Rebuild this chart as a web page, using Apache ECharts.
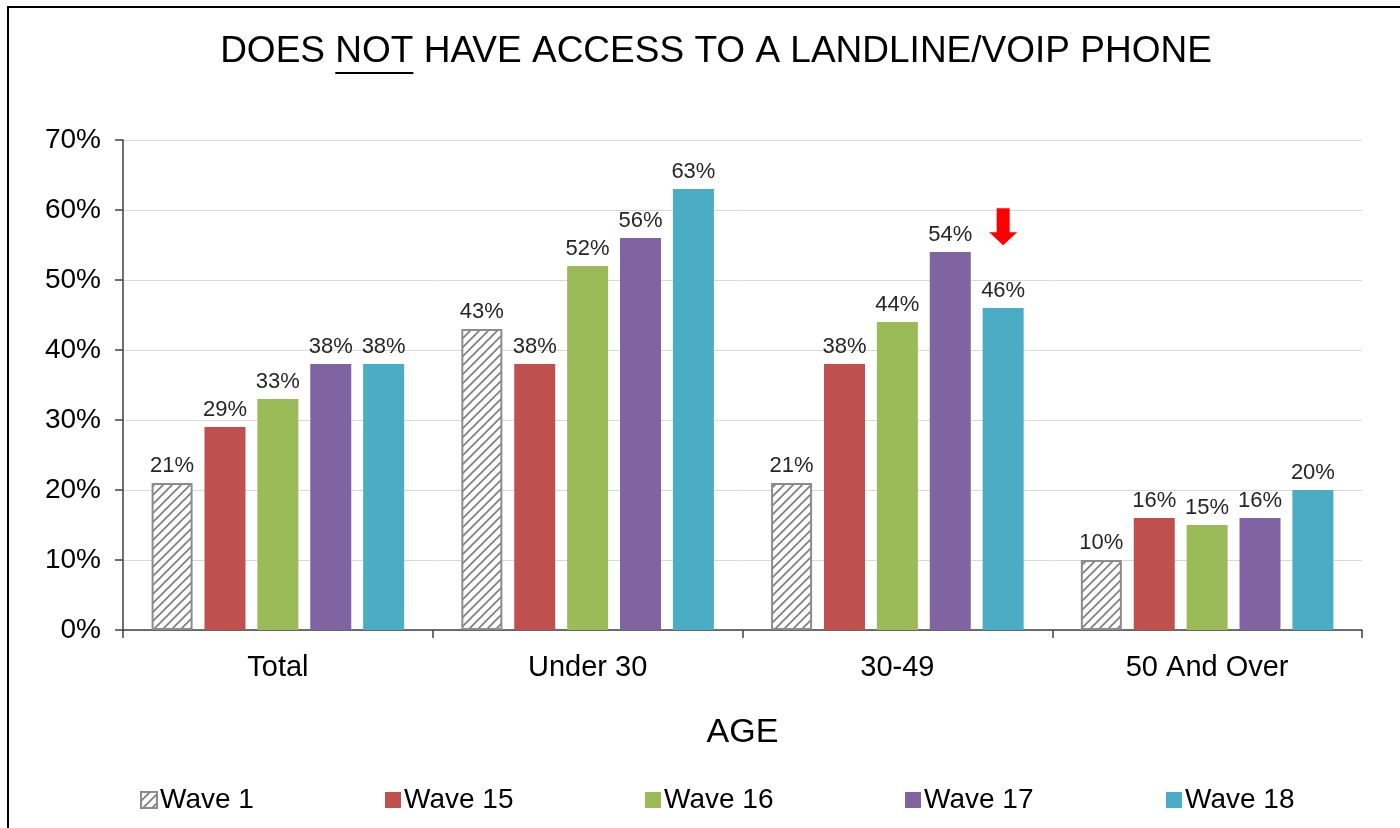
<!DOCTYPE html>
<html>
<head>
<meta charset="utf-8">
<script src="https://cdn.jsdelivr.net/npm/echarts@6/dist/echarts.min.js"></script>
<style>
  html, body { margin: 0; padding: 0; background: #fff; }
  #chart { width: 1400px; height: 828px; }
</style>
</head>
<body>
<div id="chart"></div>
<script>
// 数据
const categories = ["Total", "Under 30", "30-49", "50 And Over"];
const waveNames = ["Wave 1", "Wave 15", "Wave 16", "Wave 17", "Wave 18"];
const wave1 = [21, 43, 21, 10];
const wave15 = [29, 38, 38, 16];
const wave16 = [33, 52, 44, 15];
const wave17 = [38, 56, 54, 16];
const wave18 = [38, 63, 46, 20];
const yTicks = [0, 10, 20, 30, 40, 50, 60, 70];

const colors = ["#ffffff", "#c0504d", "#9bbb59", "#8064a2", "#4bacc6"];
const FONT = '"Liberation Sans", Arial, sans-serif';

// 斜线填充
function hatch() {
  const c = document.createElement("canvas");
  c.width = 9; c.height = 9;
  const g = c.getContext("2d");
  g.fillStyle = "#fff";
  g.fillRect(0, 0, 9, 9);
  g.strokeStyle = "#7f7f7f";
  g.lineWidth = 1.7;
  g.beginPath();
  g.moveTo(-2, 11); g.lineTo(11, -2);
  g.moveTo(-2, 2); g.lineTo(2, -2);
  g.moveTo(7, 11); g.lineTo(11, 7);
  g.stroke();
  return c;
}

// 标题下划线位置
const TITLE_SIZE = 37;
const titleParts = ["DOES ", "NOT", " HAVE ACCESS TO A LANDLINE/VOIP PHONE"];
const mctx = document.createElement("canvas").getContext("2d");
mctx.font = TITLE_SIZE + "px " + FONT;
const wA = mctx.measureText(titleParts[0]).width;
const wB = mctx.measureText(titleParts[1]).width;
const wAll = mctx.measureText(titleParts.join("")).width;
const titleCx = 716;
const titleLeft = titleCx - wAll / 2;

const allData = [wave1, wave15, wave16, wave17, wave18];
const legendLefts = [135, 380, 640, 900, 1161];

const chart = echarts.init(document.getElementById("chart"));

const series = waveNames.map((name, i) => {
  const s = {
    name: name,
    type: "bar",
    data: allData[i],
    barWidth: 41,
    barGap: "29%",
    itemStyle: i === 0
      ? { color: { image: hatch(), repeat: "repeat" }, borderColor: "#8c8c8c", borderWidth: 2 }
      : { color: colors[i] },
    label: {
      show: true,
      position: "top",
      distance: 6,
      formatter: "{c}%",
      fontSize: 22,
      fontFamily: FONT,
      color: "#262626"
    }
  };
  if (i === 4) {
    s.markPoint = {
      symbol: "path://M7.5,0 L20.5,0 L20.5,24 L28,24 L14,37 L0,24 L7.5,24 Z",
      symbolSize: [28, 37],
      label: { show: false },
      itemStyle: { color: "#ff0000" },
      data: [{ coord: ["30-49", 57.6] }]
    };
  }
  return s;
});

const option = {
  animation: false,
  backgroundColor: "#fff",
  grid: { left: 123, right: 38, top: 140, bottom: 198 },
  legend: waveNames.map((n, i) => ({
    data: [n],
    left: legendLefts[i],
    top: 781,
    icon: "rect",
    itemWidth: 16,
    itemHeight: 16,
    itemGap: 4,
    selectedMode: false,
    textStyle: { fontSize: 28, fontFamily: FONT, color: "#000", padding: [0, 0, 0, -2] }
  })),
  xAxis: {
    type: "category",
    data: categories,
    name: "AGE",
    nameLocation: "middle",
    nameGap: 86,
    nameTextStyle: { fontSize: 34, fontFamily: FONT, color: "#000", verticalAlign: "top" },
    axisLine: { lineStyle: { color: "#404040", width: 1.5 } },
    axisTick: { show: true, length: 8, lineStyle: { color: "#404040", width: 1.5 } },
    axisLabel: { fontSize: 29, fontFamily: FONT, color: "#000", margin: 23 }
  },
  yAxis: {
    type: "value",
    min: 0,
    max: 70,
    interval: 10,
    axisLine: { show: true, lineStyle: { color: "#404040", width: 1.5 } },
    axisTick: { show: true, length: 8, lineStyle: { color: "#404040", width: 1.5 } },
    splitLine: { lineStyle: { color: "#d9d9d9", width: 1 } },
    axisLabel: {
      fontSize: 28,
      fontFamily: FONT,
      color: "#000",
      margin: 22,
      formatter: (v) => (yTicks.indexOf(v) >= 0 ? v + "%" : "")
    }
  },
  graphic: [
    { type: "line", shape: { x1: 7, y1: 7, x2: 1400, y2: 7 }, style: { stroke: "#000", lineWidth: 2 } },
    { type: "line", shape: { x1: 8, y1: 7, x2: 8, y2: 828 }, style: { stroke: "#000", lineWidth: 2 } },
    {
      type: "text",
      left: titleLeft,
      top: 33,
      style: { text: titleParts.join(""), font: TITLE_SIZE + "px " + FONT, fill: "#000" }
    },
    {
      type: "line",
      shape: { x1: titleLeft + wA, y1: 73, x2: titleLeft + wA + wB, y2: 73 },
      style: { stroke: "#000", lineWidth: 2 }
    }
  ],
  series: series
};

chart.setOption(option);
</script>
</body>
</html>
